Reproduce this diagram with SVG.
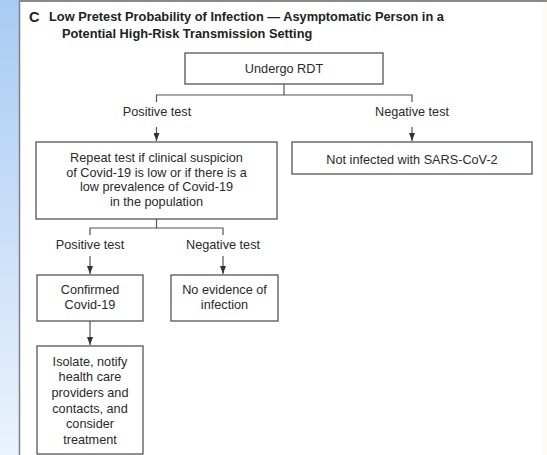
<svg xmlns="http://www.w3.org/2000/svg" width="547" height="455" viewBox="0 0 547 455">
<defs>
<linearGradient id="stripe" x1="0" y1="0" x2="0" y2="1">
<stop offset="0" stop-color="#a9cbf3"/>
<stop offset="1" stop-color="#eaf3fd"/>
</linearGradient>
<marker id="ah" markerWidth="8" markerHeight="6" refX="8" refY="3" orient="auto" markerUnits="userSpaceOnUse" viewBox="0 0 8 6">
<path d="M0,0 L8,3 L0,6 Z" fill="#333"/>
</marker>
<style>
.box{fill:#fff;stroke:#555;stroke-width:1.3}
.ln{fill:none;stroke:#555;stroke-width:1.2}
.t{font-family:"Liberation Sans",Arial,sans-serif;font-size:12.7px;fill:#2a2a2a;text-anchor:middle}
.h{font-family:"Liberation Sans",Arial,sans-serif;font-size:12.8px;font-weight:bold;fill:#222}
</style>
</defs>
<rect x="0" y="0" width="547" height="455" fill="#fff"/>
<rect x="0" y="0" width="19" height="455" fill="url(#stripe)"/>
<rect x="543" y="2" width="4" height="453" fill="#fbfaf5"/>
<line x1="19.5" y1="0" x2="19.5" y2="455" stroke="#808080" stroke-width="1.5"/>
<line x1="19" y1="1" x2="547" y2="1" stroke="#8a8a8a" stroke-width="2"/>
<g id="title">
<text class="h" x="29" y="21.5" style="font-size:14.5px">C</text>
<text class="h" x="49" y="21">Low Pretest Probability of Infection — Asymptomatic Person in a</text>
<text class="h" x="62" y="38">Potential High-Risk Transmission Setting</text>
</g>
<g id="connectors">
<path class="ln" d="M284,84 V95 M156.5,102 V95 H412 V102"/>
<line class="ln" x1="156.5" y1="127" x2="156.5" y2="141" marker-end="url(#ah)"/>
<line class="ln" x1="412" y1="127" x2="412" y2="141" marker-end="url(#ah)"/>
<path class="ln" d="M156.5,219 V228 M90,235 V228 H223 V235"/>
<line class="ln" x1="90" y1="256" x2="90" y2="274" marker-end="url(#ah)"/>
<line class="ln" x1="223" y1="256" x2="223" y2="274" marker-end="url(#ah)"/>
<line class="ln" x1="90" y1="321" x2="90" y2="345" marker-end="url(#ah)"/>
<text class="t" x="157" y="116">Positive test</text>
<text class="t" x="412" y="116">Negative test</text>
<text class="t" x="90" y="249">Positive test</text>
<text class="t" x="223" y="249">Negative test</text>
</g>
<g id="undergo">
<rect class="box" x="185" y="53" width="198" height="31"/>
<text class="t" x="284" y="73">Undergo RDT</text>
</g>
<g id="repeat">
<rect class="box" x="36" y="142" width="241" height="77"/>
<text class="t" x="156.5" y="162">Repeat test if clinical suspicion</text>
<text class="t" x="156.5" y="176.5">of Covid-19 is low or if there is a</text>
<text class="t" x="156.5" y="191">low prevalence of Covid-19</text>
<text class="t" x="156.5" y="205.5">in the population</text>
</g>
<g id="notinfected">
<rect class="box" x="292" y="142" width="240" height="32"/>
<text class="t" x="412" y="164">Not infected with SARS-CoV-2</text>
</g>
<g id="confirmed">
<rect class="box" x="37" y="275" width="106" height="46"/>
<text class="t" x="90" y="294">Confirmed</text>
<text class="t" x="90" y="309">Covid-19</text>
</g>
<g id="noevidence">
<rect class="box" x="171" y="275" width="107" height="46"/>
<text class="t" x="224.5" y="294">No evidence of</text>
<text class="t" x="224.5" y="309">infection</text>
</g>
<g id="isolate">
<rect class="box" x="37" y="346" width="106" height="108"/>
<text class="t" x="90" y="365.5">Isolate, notify</text>
<text class="t" x="90" y="381.3">health care</text>
<text class="t" x="90" y="397">providers and</text>
<text class="t" x="90" y="412.7">contacts, and</text>
<text class="t" x="90" y="428.4">consider</text>
<text class="t" x="90" y="444">treatment</text>
</g>
</svg>
